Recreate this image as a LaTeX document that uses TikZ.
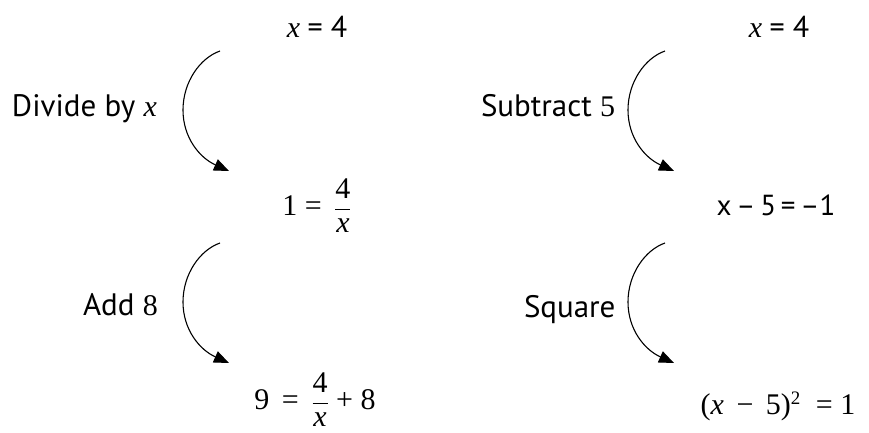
\documentclass[tikz,border=0pt]{standalone}
\usepackage{fontspec}
\setmainfont{Liberation Serif}
\newfontfamily\lab{PT Sans}
\usetikzlibrary{arrows.meta}
\newcommand\fr[2]{$\displaystyle\frac{\mbox{#1}}{\mbox{#2}}$}
\begin{document}
\begin{tikzpicture}[x=1pt,y=-1pt,
  every node/.style={inner sep=0pt,outer sep=0pt},
  lbl/.style={font=\lab\fontsize{31}{36}\selectfont, anchor=base west},
  eqn/.style={font=\fontsize{30}{36}\selectfont, anchor=base},
  flow/.style={line width=1.1pt, -{Triangle[length=15pt,width=12pt]}}]
\useasboundingbox (0,0) rectangle (869,433);
% left column
\node[eqn] (l1) at (317,38) {\textit{x} {\lab = 4}};
\node[eqn] (l2) at (317,215) {1 = \,\fr{4}{\textit{x}}};
\node[eqn] (l3) at (315,409) {9 \,=\, \fr{4}{\textit{x}} + 8};
\node[lbl] (t1) at (12,117) {Divide by {\rmfamily\fontsize{30}{36}\selectfont\itshape x}};
\node[lbl] (t2) at (83,315) {Add {\rmfamily\fontsize{30}{36}\selectfont 8}};
% right column
\node[eqn] (r1) at (779,38) {\textit{x} {\lab = 4}};
\node[eqn,font=\lab\fontsize{29}{34}\selectfont] (r2) at (776,215) {x\,–\,5\,=\,–1};
\node[eqn] (r3) at (778,414) {(\textit{x} \,−\, 5)$^{\mbox{\fontsize{19}{22}\selectfont 2}}$\ \ = 1};
\node[lbl] (t3) at (481,117) {Subtract {\rmfamily\fontsize{30}{36}\selectfont 5}};
\node[lbl] (t4) at (524,317) {Square};
% arcs
\coordinate (a1s) at (220,51);  \coordinate (a1e) at (229,171);
\coordinate (a2s) at (220,243); \coordinate (a2e) at (229,363);
\coordinate (a3s) at (665,51);  \coordinate (a3e) at (674,171);
\coordinate (a4s) at (665,243); \coordinate (a4e) at (674,363);
\foreach \s/\e in {a1s/a1e,a2s/a2e,a3s/a3e,a4s/a4e}
  \draw[flow] (\s) .. controls +(-20,7) and +(0,-28) .. ++(-37,59)
                   .. controls +(0,28) and +(-29,-13) .. (\e);
\end{tikzpicture}
\end{document}
